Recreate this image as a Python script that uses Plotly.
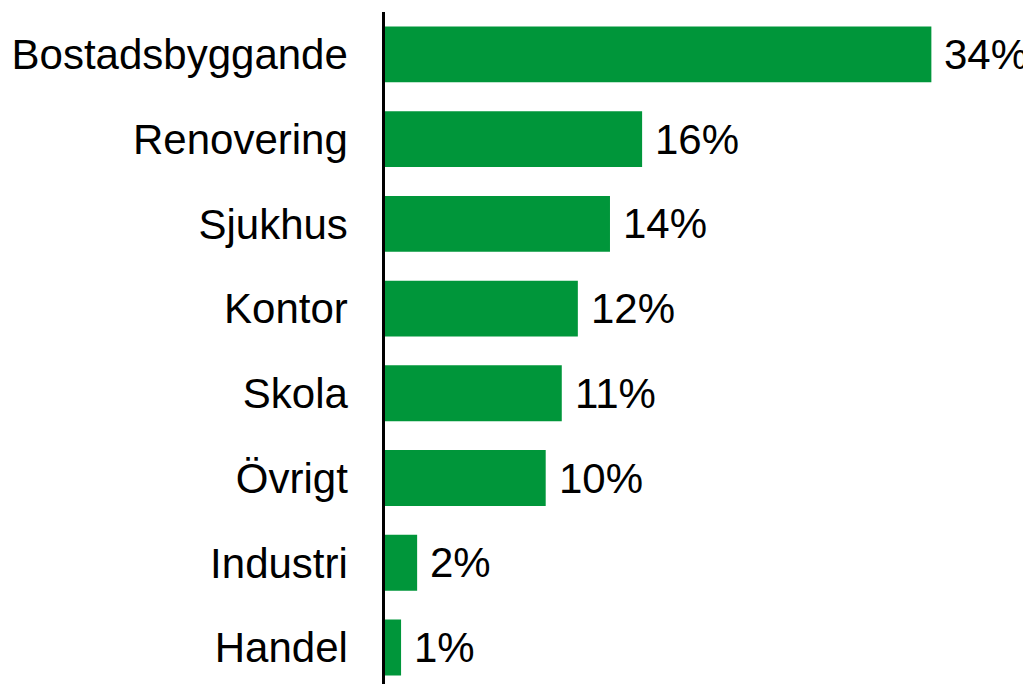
import plotly.graph_objects as go

categories = ["Bostadsbyggande", "Renovering", "Sjukhus", "Kontor", "Skola", "Övrigt", "Industri", "Handel"]
values = [34, 16, 14, 12, 11, 10, 2, 1]
labels = ["34%", "16%", "14%", "12%", "11%", "10%", "2%", "1%"]

FONT = "Liberation Sans, Arial, sans-serif"

fig = go.Figure()
fig.add_trace(go.Bar(
    y=categories, x=values, orientation="h",
    marker=dict(color="#00963A", line=dict(width=0)),
    width=0.66,
    hoverinfo="skip",
))
for c, v, t in zip(categories, values, labels):
    fig.add_annotation(x=v, y=c, text=t, showarrow=False, xanchor="left",
                       xshift=11, font=dict(family=FONT, size=42, color="#000000"))

fig.update_layout(
    width=1023, height=676,
    margin=dict(l=377, r=0, t=4, b=0),
    paper_bgcolor="white", plot_bgcolor="white",
    showlegend=False,
    font=dict(family=FONT, size=42, color="#000000"),
    xaxis=dict(range=[0, 40.2], visible=False, showgrid=False, zeroline=False),
    yaxis=dict(range=[7.43, -0.5], type="category", showgrid=False, zeroline=False,
               showline=True, linecolor="#000000", linewidth=2.5,
               ticks="", ticklabelstandoff=26,
               tickfont=dict(family=FONT, size=42, color="#000000")),
)
fig.write_html("out.html")
